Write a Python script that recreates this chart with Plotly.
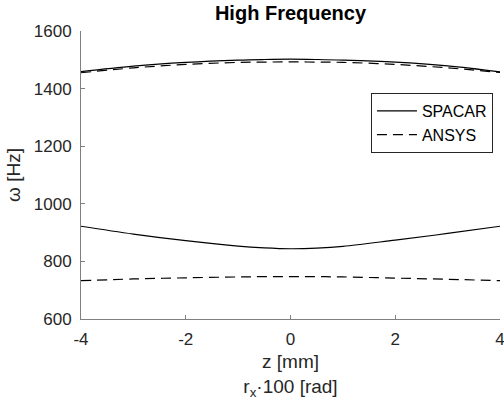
import plotly.graph_objects as go

# ---- data ----
z = [-4, -3, -2, -1, -0.5, 0, 0.5, 1, 2, 3, 4]
spacar_high = [1459, 1478, 1491, 1499, 1501, 1502, 1501, 1499, 1492, 1479, 1458]
ansys_high = [1455, 1472, 1484, 1491, 1492, 1493, 1492, 1491, 1484, 1472, 1456]
spacar_low = [922, 895, 872, 853, 847, 844, 846, 852, 874, 897, 922]
ansys_low = [733, 739, 743, 746, 747, 747, 747, 746, 742, 738, 733]

x_tickvals = [-4, -2, 0, 2, 4]
x_ticktext = ["-4", "-2", "0", "2", "4"]
y_tickvals = [600, 800, 1000, 1200, 1400, 1600]
y_ticktext = ["600", "800", "1000", "1200", "1400", "1600"]

FONT = "Liberation Sans, Arial, sans-serif"
AX = "#808080"
TXT = "#262626"

fig = go.Figure()
solid = dict(color="black", width=1.2, shape="spline")
dashed = dict(color="black", width=1.2, dash="10px,6px", shape="spline")

fig.add_trace(go.Scatter(x=z, y=spacar_high, mode="lines", line=solid, name="SPACAR",
                         legendgroup="s"))
fig.add_trace(go.Scatter(x=z, y=ansys_high, mode="lines", line=dashed, name="ANSYS",
                         legendgroup="a"))
fig.add_trace(go.Scatter(x=z, y=spacar_low, mode="lines", line=solid, name="SPACAR",
                         legendgroup="s", showlegend=False))
fig.add_trace(go.Scatter(x=z, y=ansys_low, mode="lines", line=dashed, name="ANSYS",
                         legendgroup="a", showlegend=False))

fig.update_layout(
    width=504, height=410,
    margin=dict(l=81, r=4, t=31, b=91),
    paper_bgcolor="white", plot_bgcolor="white",
    font=dict(family=FONT, color=TXT, size=16),
    title=dict(text="<b>High Frequency</b>", x=(81 + 500) / 2 / 504, xanchor="center",
               y=1 - 13 / 410, yanchor="middle", yref="container",
               font=dict(size=20, color="black", family=FONT)),
    showlegend=True,
    legend=dict(x=0.692, y=0.785, xanchor="left", yanchor="top",
                bgcolor="white", bordercolor=TXT, borderwidth=1,
                font=dict(size=16, color="black", family=FONT),
                tracegroupgap=0, itemwidth=40),
    xaxis=dict(range=[-4, 4], tickvals=x_tickvals, ticktext=x_ticktext,
               showgrid=False, zeroline=False, showline=True, linecolor=AX, linewidth=1,
               ticks="inside", ticklen=4, tickcolor=AX, mirror=False,
               ticklabeloverflow="allow", ticklabelstandoff=5, automargin=False,
               tickfont=dict(size=17, color=TXT),
               title=dict(text="z [mm]<br>r<sub>x</sub>·100 [rad]",
                          font=dict(size=19, color=TXT), standoff=6)),
    yaxis=dict(range=[600, 1600], tickvals=y_tickvals, ticktext=y_ticktext,
               showgrid=False, zeroline=False, showline=True, linecolor=AX, linewidth=1,
               ticks="inside", ticklen=4, tickcolor=AX, mirror=False,
               ticklabelstandoff=5, automargin=False,
               tickfont=dict(size=17, color=TXT),
               title=dict(text="ω [Hz]", font=dict(size=19, color=TXT), standoff=8)),
)

fig.write_html("out.html")
